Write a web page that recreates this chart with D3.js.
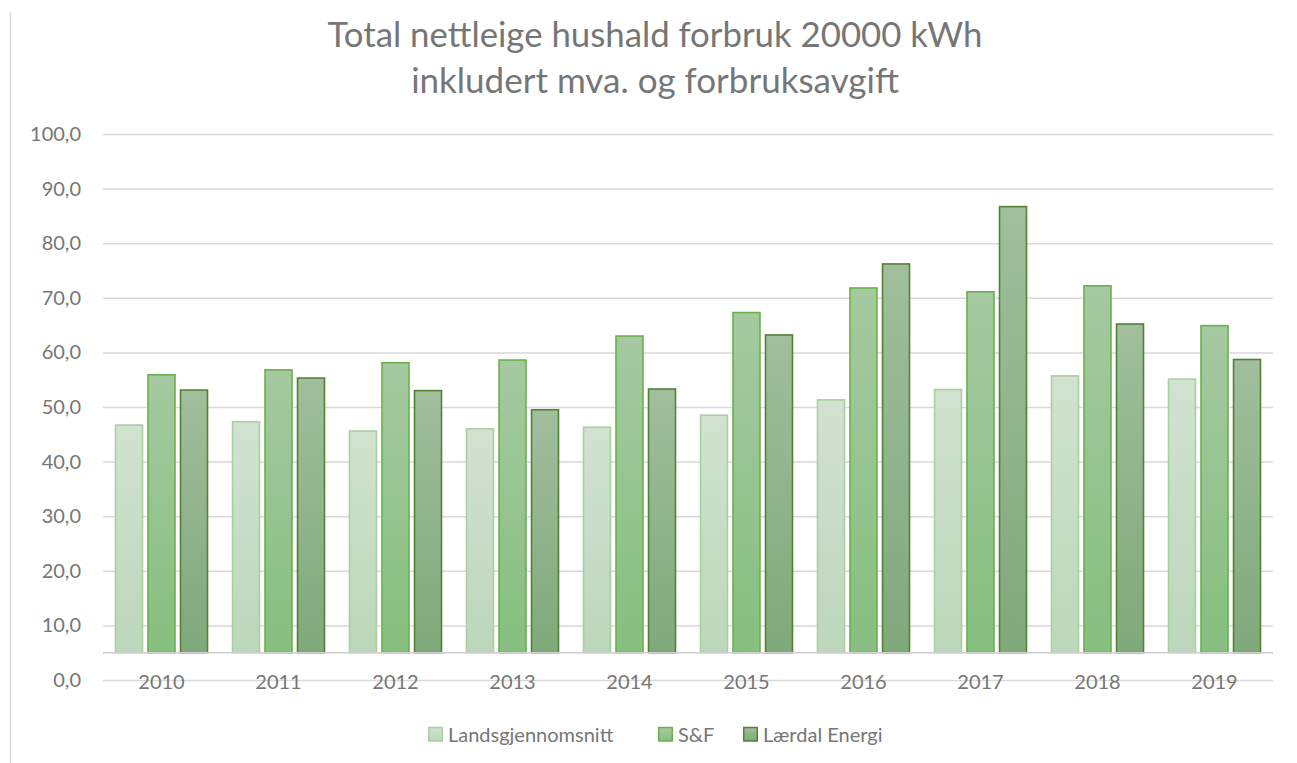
<!DOCTYPE html>
<html><head><meta charset="utf-8">
<script src="https://cdn.jsdelivr.net/npm/d3@7"></script>
<style>html,body{margin:0;padding:0;background:#fff;}svg{display:block;}</style>
</head><body>
<svg id="c" width="1297" height="763"></svg>
<script>
const titleLines = ["Total nettleige hushald forbruk 20000 kWh", "inkludert mva. og forbruksavgift"];
const categories = ["2010","2011","2012","2013","2014","2015","2016","2017","2018","2019"];
const seriesNames = ["Landsgjennomsnitt", "S&F", "Lærdal Energi"];
const landsgjennomsnitt = [46.7, 47.3, 45.6, 46.0, 46.3, 48.5, 51.3, 53.2, 55.7, 55.1];
const sogf = [55.9, 56.8, 58.1, 58.6, 63.0, 67.3, 71.8, 71.1, 72.2, 64.9];
const laerdal = [53.1, 55.3, 53.0, 49.5, 53.3, 63.2, 76.2, 86.7, 65.2, 58.7];
const yTicks = [0,10,20,30,40,50,60,70,80,90,100];
const axisCross = 5;

(function(){
const series = [landsgjennomsnitt, sogf, laerdal];
const styles = [
  {top:"#d1e3d0", bot:"#bcd7ba", stroke:"#a9d0a2"},
  {top:"#a5c9a1", bot:"#86bf7f", stroke:"#6ab04c"},
  {top:"#a1be9d", bot:"#7fa97b", stroke:"#548235"}
];
const font = "Lato, 'Open Sans', sans-serif";
const gray = "#767676";
const fs = 20;

const svg = d3.select("#c");
const defs = svg.append("defs");
styles.forEach((s,i)=>{
  const g = defs.append("linearGradient").attr("id","g"+i).attr("x1",0).attr("y1",0).attr("x2",0).attr("y2",1);
  g.append("stop").attr("offset","0%").attr("stop-color",s.top);
  g.append("stop").attr("offset","100%").attr("stop-color",s.bot);
});

svg.append("line").attr("x1",10.5).attr("x2",10.5).attr("y1",12).attr("y2",763)
  .attr("stroke","#d9d9d9").attr("stroke-width",1.5);

const pLeft = 103, pRight = 1273, pTop = 134, pBottom = 680;
const x = d3.scaleBand().domain(categories).range([pLeft,pRight]).paddingInner(0).paddingOuter(0);
const y = d3.scaleLinear().domain([0,100]).range([pBottom, pTop]);
const groupW = 92;
const inner = d3.scaleBand().domain(d3.range(3)).range([0, groupW]).paddingInner(0.17).paddingOuter(0);

const grid = d3.axisLeft(y).tickValues(yTicks).tickSize(-(pRight-pLeft)).tickFormat("");
svg.append("g").attr("transform",`translate(${pLeft},0)`).call(grid)
  .call(g=>g.select(".domain").remove())
  .call(g=>g.selectAll("line").attr("stroke","#d9d9d9").attr("stroke-width",1.5));

svg.append("g").selectAll("text").data(yTicks).join("text")
  .attr("x",81).attr("y",d=>y(d)).attr("dy","0.35em").attr("text-anchor","end")
  .attr("font-family",font).attr("font-size",fs).attr("fill",gray)
  .text(d=>d3.format(".1f")(d).replace(".",","));

const bw = inner.bandwidth();
series.forEach((vals,si)=>{
  svg.append("g").selectAll("rect").data(vals).join("rect")
    .attr("x",(d,i)=>x(categories[i]) + (x.bandwidth()-groupW)/2 + inner(si))
    .attr("y",d=>y(d))
    .attr("width",bw)
    .attr("height",d=>y(axisCross)-y(d))
    .attr("fill",`url(#g${si})`)
    .attr("stroke",styles[si].stroke).attr("stroke-width",1.6);
});

svg.append("line").attr("x1",pLeft).attr("x2",pRight).attr("y1",y(axisCross)).attr("y2",y(axisCross))
  .attr("stroke","#d0d0d0").attr("stroke-width",1.5);

const xa = d3.axisBottom(x).tickSize(0).tickPadding(0);
svg.append("g").attr("transform",`translate(0,${pBottom+2})`).call(xa)
  .call(g=>g.select(".domain").remove())
  .call(g=>g.selectAll("text").attr("y",0).attr("dy","0.35em")
    .attr("font-family",font).attr("font-size",fs).attr("fill",gray));

const tw = [655, 488];
titleLines.forEach((t,i)=>{
  const el = svg.append("text").attr("x",655).attr("y",[47,93][i]).attr("text-anchor","middle")
    .attr("font-family",font).attr("font-size",32).attr("fill",gray).text(t);
  const w = el.node().getComputedTextLength();
  el.attr("font-size", 32*tw[i]/w);
});

const legendX = [428, 658, 743];
const lg = svg.append("g");
seriesNames.forEach((n,i)=>{
  lg.append("rect").attr("x",legendX[i]+0.75).attr("y",727.5).attr("width",13.5).attr("height",13.5)
    .attr("fill",`url(#g${i})`).attr("stroke",styles[i].stroke).attr("stroke-width",1.5);
  lg.append("text").attr("x",legendX[i]+20).attr("y",735).attr("dy","0.35em")
    .attr("font-family",font).attr("font-size",fs).attr("fill",gray).text(n);
});
})();
</script>
</body></html>
